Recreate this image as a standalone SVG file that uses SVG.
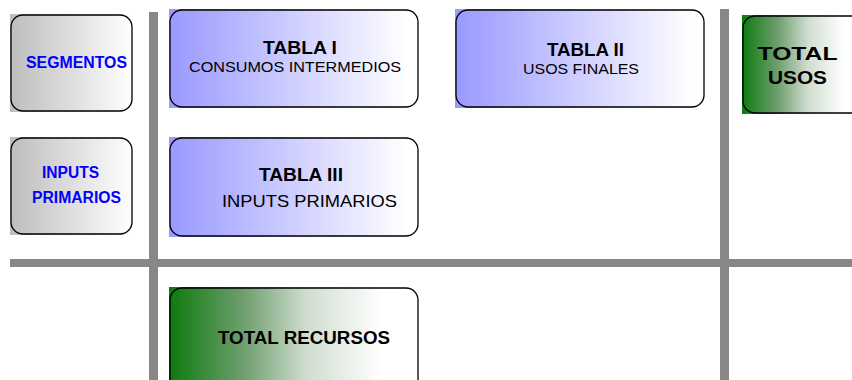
<svg xmlns="http://www.w3.org/2000/svg" width="852" height="380" viewBox="0 0 852 380">
<defs>
<linearGradient id="gGray" x1="0" y1="0" x2="1" y2="0"><stop offset="0" stop-color="#bdbdbd"/><stop offset="1" stop-color="#ffffff"/></linearGradient>
<linearGradient id="gBlue" x1="0" y1="0" x2="1" y2="0"><stop offset="0" stop-color="#9999ff"/><stop offset="0.95" stop-color="#ffffff"/><stop offset="1" stop-color="#ffffff"/></linearGradient>
<linearGradient id="gGreen" x1="0" y1="0" x2="1" y2="0"><stop offset="0" stop-color="#0d7a0d"/><stop offset="0.3" stop-color="#6f9f6f"/><stop offset="0.55" stop-color="#d0ddd0"/><stop offset="0.85" stop-color="#ffffff"/><stop offset="1" stop-color="#ffffff"/></linearGradient>
<style>
.bd{fill:none;stroke:#000;stroke-width:1.3}
.t{font-family:"Liberation Sans",Arial,sans-serif;text-anchor:middle}
.b{font-weight:bold}
.bl{fill:#0000ff;font-weight:bold;font-size:16px}
.k{fill:#000}
.ln{fill:#878787}
</style>
</defs>
<rect width="852" height="380" fill="#ffffff"/>
<g id="grid">
<rect class="ln" x="149" y="12" width="9" height="368"/>
<rect class="ln" x="720" y="9" width="9" height="371"/>
<rect class="ln" x="10" y="259" width="842" height="8"/>
</g>
<g id="segmentos">
<rect x="10" y="14" width="123" height="98" fill="url(#gGray)"/>
<rect class="bd" x="11" y="15" width="121" height="96" rx="12"/>
<text class="t bl" x="76.5" y="68" textLength="101" lengthAdjust="spacingAndGlyphs">SEGMENTOS</text>
</g>
<g id="inputs-primarios">
<rect x="10" y="137" width="123" height="98" fill="url(#gGray)"/>
<rect class="bd" x="11" y="138" width="121" height="96" rx="12"/>
<text class="t bl" x="70.5" y="178" textLength="57" lengthAdjust="spacingAndGlyphs">INPUTS</text>
<text class="t bl" x="76.5" y="203" textLength="89" lengthAdjust="spacingAndGlyphs">PRIMARIOS</text>
</g>
<g id="tabla-i">
<rect x="169" y="9" width="250" height="99" fill="url(#gBlue)"/>
<rect class="bd" x="170" y="10" width="248" height="97" rx="12"/>
<text class="t b k" x="300" y="54" font-size="18" textLength="74" lengthAdjust="spacingAndGlyphs">TABLA I</text>
<text class="t k" x="295" y="72" font-size="15" textLength="212" lengthAdjust="spacingAndGlyphs">CONSUMOS INTERMEDIOS</text>
</g>
<g id="tabla-ii">
<rect x="455" y="9" width="250" height="99" fill="url(#gBlue)"/>
<rect class="bd" x="456" y="10" width="248" height="97" rx="12"/>
<text class="t b k" x="585.5" y="56" font-size="18" textLength="77" lengthAdjust="spacingAndGlyphs">TABLA II</text>
<text class="t k" x="581" y="74" font-size="15" textLength="116" lengthAdjust="spacingAndGlyphs">USOS FINALES</text>
</g>
<g id="total-usos">
<rect x="742" y="15" width="120" height="99" fill="url(#gGreen)"/>
<rect class="bd" x="743" y="16" width="130" height="97" rx="12"/>
<text class="t b k" x="797.5" y="60" font-size="18" textLength="80" lengthAdjust="spacingAndGlyphs">TOTAL</text>
<text class="t b k" x="797.5" y="84" font-size="18" textLength="59" lengthAdjust="spacingAndGlyphs">USOS</text>
</g>
<g id="tabla-iii">
<rect x="169" y="137" width="250" height="100" fill="url(#gBlue)"/>
<rect class="bd" x="170" y="138" width="248" height="98" rx="12"/>
<text class="t b k" x="301" y="181" font-size="18" textLength="84" lengthAdjust="spacingAndGlyphs">TABLA III</text>
<text class="t k" x="309.5" y="207" font-size="17" textLength="175" lengthAdjust="spacingAndGlyphs">INPUTS PRIMARIOS</text>
</g>
<g id="total-recursos">
<rect x="169" y="287" width="250" height="100" fill="url(#gGreen)"/>
<rect class="bd" x="170" y="288" width="248" height="110" rx="12"/>
<text class="t b k" x="304" y="344" font-size="18" textLength="172" lengthAdjust="spacingAndGlyphs">TOTAL RECURSOS</text>
</g>
<g id="connectors"/>
</svg>
